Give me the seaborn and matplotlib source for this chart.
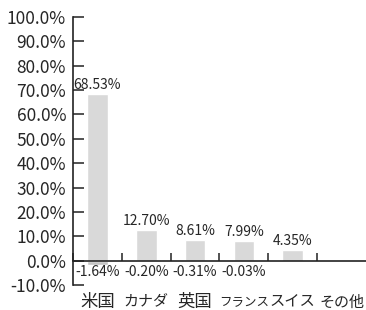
import numpy as np
import pandas as pd
import matplotlib
matplotlib.use("Agg")
import matplotlib.pyplot as plt
import seaborn as sns

categories = ["米国", "カナダ", "英国", "フランス", "スイス", "その他"]
positive = [68.53, 12.70, 8.61, 7.99, 4.35, np.nan]
negative = [-1.64, -0.20, -0.31, -0.03, np.nan, np.nan]
yticks = [-10, 0, 10, 20, 30, 40, 50, 60, 70, 80, 90, 100]
label_sizes = [12.5, 10.8, 12.5, 9, 11, 10.8]

sns.set_theme(style="white")
plt.rcParams["font.family"] = ["Noto Sans CJK JP", "DejaVu Sans"]

df = pd.DataFrame({"cat": categories, "pos": positive, "neg": negative})

fig = plt.figure(figsize=(3.66, 3.10), dpi=100)
ax = fig.add_axes([73 / 366, 1 - 285 / 310, 1 - 73 / 366, (285 - 17) / 310])

sns.barplot(data=df, x="cat", y="pos", color="#d9d9d9", width=0.42,
            saturation=1, ax=ax)
sns.barplot(data=df, x="cat", y="neg", color="#c3c3c3", width=0.42,
            saturation=1, ax=ax)

ax.set_xlim(-0.5, len(categories) - 0.5)
ax.set_ylim(-10, 100)
ax.set_yticks(yticks)
ax.set_yticklabels([f"{t:.1f}%" for t in yticks], fontsize=12.5)
ax.set_xlabel("")
ax.set_ylabel("")

for s in ["top", "right"]:
    ax.spines[s].set_visible(False)
ax.spines["bottom"].set_position(("data", 0))
for s in ["left", "bottom"]:
    ax.spines[s].set_color("#222222")
    ax.spines[s].set_linewidth(1.2)

ax.tick_params(axis="y", direction="in", length=8, width=1.1, color="#222222",
               pad=5, left=True)
ax.set_xticks(range(len(categories)))
ax.set_xticklabels(categories)
for lab, fs in zip(ax.get_xticklabels(), label_sizes):
    lab.set_fontsize(fs)
    lab.set_verticalalignment("center")
ax.tick_params(axis="x", which="major", length=0, pad=30)
ax.set_xticks(np.arange(len(categories)) - 0.5, minor=True)
ax.tick_params(axis="x", which="minor", direction="in", length=6, width=1.1,
               color="#222222", bottom=True)

for i, v in enumerate(positive):
    if not np.isnan(v):
        ax.annotate(f"{v:.2f}%", (i, v), xytext=(0, 1.5), textcoords="offset points",
                    ha="center", va="bottom", fontsize=10)
for i, v in enumerate(negative):
    if not np.isnan(v):
        ax.annotate(f"{v:.2f}%", (i, 0), xytext=(0, -3), textcoords="offset points",
                    ha="center", va="top", fontsize=10)

fig.savefig("out.png", dpi=100)
